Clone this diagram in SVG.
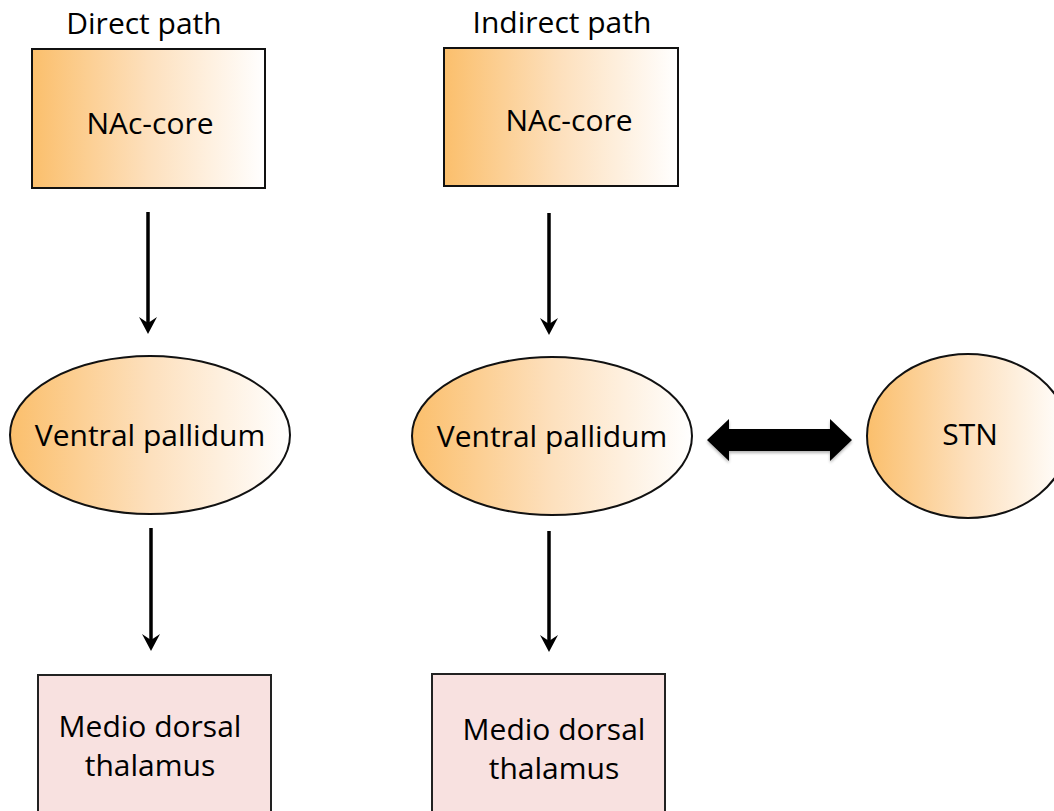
<svg xmlns="http://www.w3.org/2000/svg" width="1054" height="811" viewBox="0 0 1054 811">
<defs>
<linearGradient id="og" x1="0" y1="0" x2="1" y2="0">
<stop offset="0" stop-color="#fbbf6c"/>
<stop offset="0.5" stop-color="#fde0bd"/>
<stop offset="1" stop-color="#ffffff"/>
</linearGradient>
<filter id="sh" x="-10%" y="-30%" width="120%" height="160%">
<feGaussianBlur in="SourceAlpha" stdDeviation="1.5"/>
<feOffset dx="0" dy="2" result="b"/>
<feComponentTransfer><feFuncA type="linear" slope="0.3"/></feComponentTransfer>
<feMerge><feMergeNode/><feMergeNode in="SourceGraphic"/></feMerge>
</filter>
</defs>
<style>
.t{font-family:"Open Sans","Noto Sans","DejaVu Sans",sans-serif;font-size:30px;fill:#000;text-anchor:middle}
.og{fill:url(#og);stroke:#111;stroke-width:2}
.pk{fill:#f8e1e0;stroke:#222;stroke-width:2}
.sh{stroke:#000;stroke-width:3.5;fill:none}
.hd{fill:#000}
</style>
<rect width="1054" height="811" fill="#fff"/>
<g id="labels">
<text class="t" x="144" y="34">Direct path</text>
<text class="t" x="562" y="33">Indirect path</text>
</g>
<g id="nac1"><rect class="og" x="32" y="49" width="233" height="139"/><text class="t" x="150" y="134">NAc-core</text></g>
<g id="nac2"><rect class="og" x="444" y="48" width="234" height="138"/><text class="t" x="569" y="131">NAc-core</text></g>
<g id="vp1"><ellipse class="og" cx="150" cy="435" rx="140" ry="79"/><text class="t" x="150" y="446">Ventral pallidum</text></g>
<g id="vp2"><ellipse class="og" cx="552" cy="436" rx="140" ry="79"/><text class="t" x="552" y="447">Ventral pallidum</text></g>
<g id="stn"><ellipse class="og" cx="968" cy="436" rx="101" ry="82"/><text class="t" x="970" y="445">STN</text></g>
<g id="md1"><rect class="pk" x="38" y="675" width="233" height="160"/><text class="t" x="150" y="737">Medio dorsal</text><text class="t" x="150" y="776">thalamus</text></g>
<g id="md2"><rect class="pk" x="432" y="674" width="233" height="160"/><text class="t" x="554" y="740">Medio dorsal</text><text class="t" x="554" y="779">thalamus</text></g>
<g id="connectors">
<line class="sh" x1="148" y1="212" x2="148" y2="326"/>
<polygon class="hd" points="148,334 139,317 148,323 157,317"/>
<line class="sh" x1="549" y1="213" x2="549" y2="327"/>
<polygon class="hd" points="549,335 540,318 549,324 558,318"/>
<line class="sh" x1="151" y1="528" x2="151" y2="643"/>
<polygon class="hd" points="151,651 142,634 151,640 160,634"/>
<line class="sh" x1="549" y1="531" x2="549" y2="644"/>
<polygon class="hd" points="549,652 540,635 549,641 558,635"/>
<polygon fill="#050505" filter="url(#sh)" points="707,440 729,419 729,429 830,429 830,419 852,440 830,461 830,451 729,451 729,461"/>
</g>
</svg>
